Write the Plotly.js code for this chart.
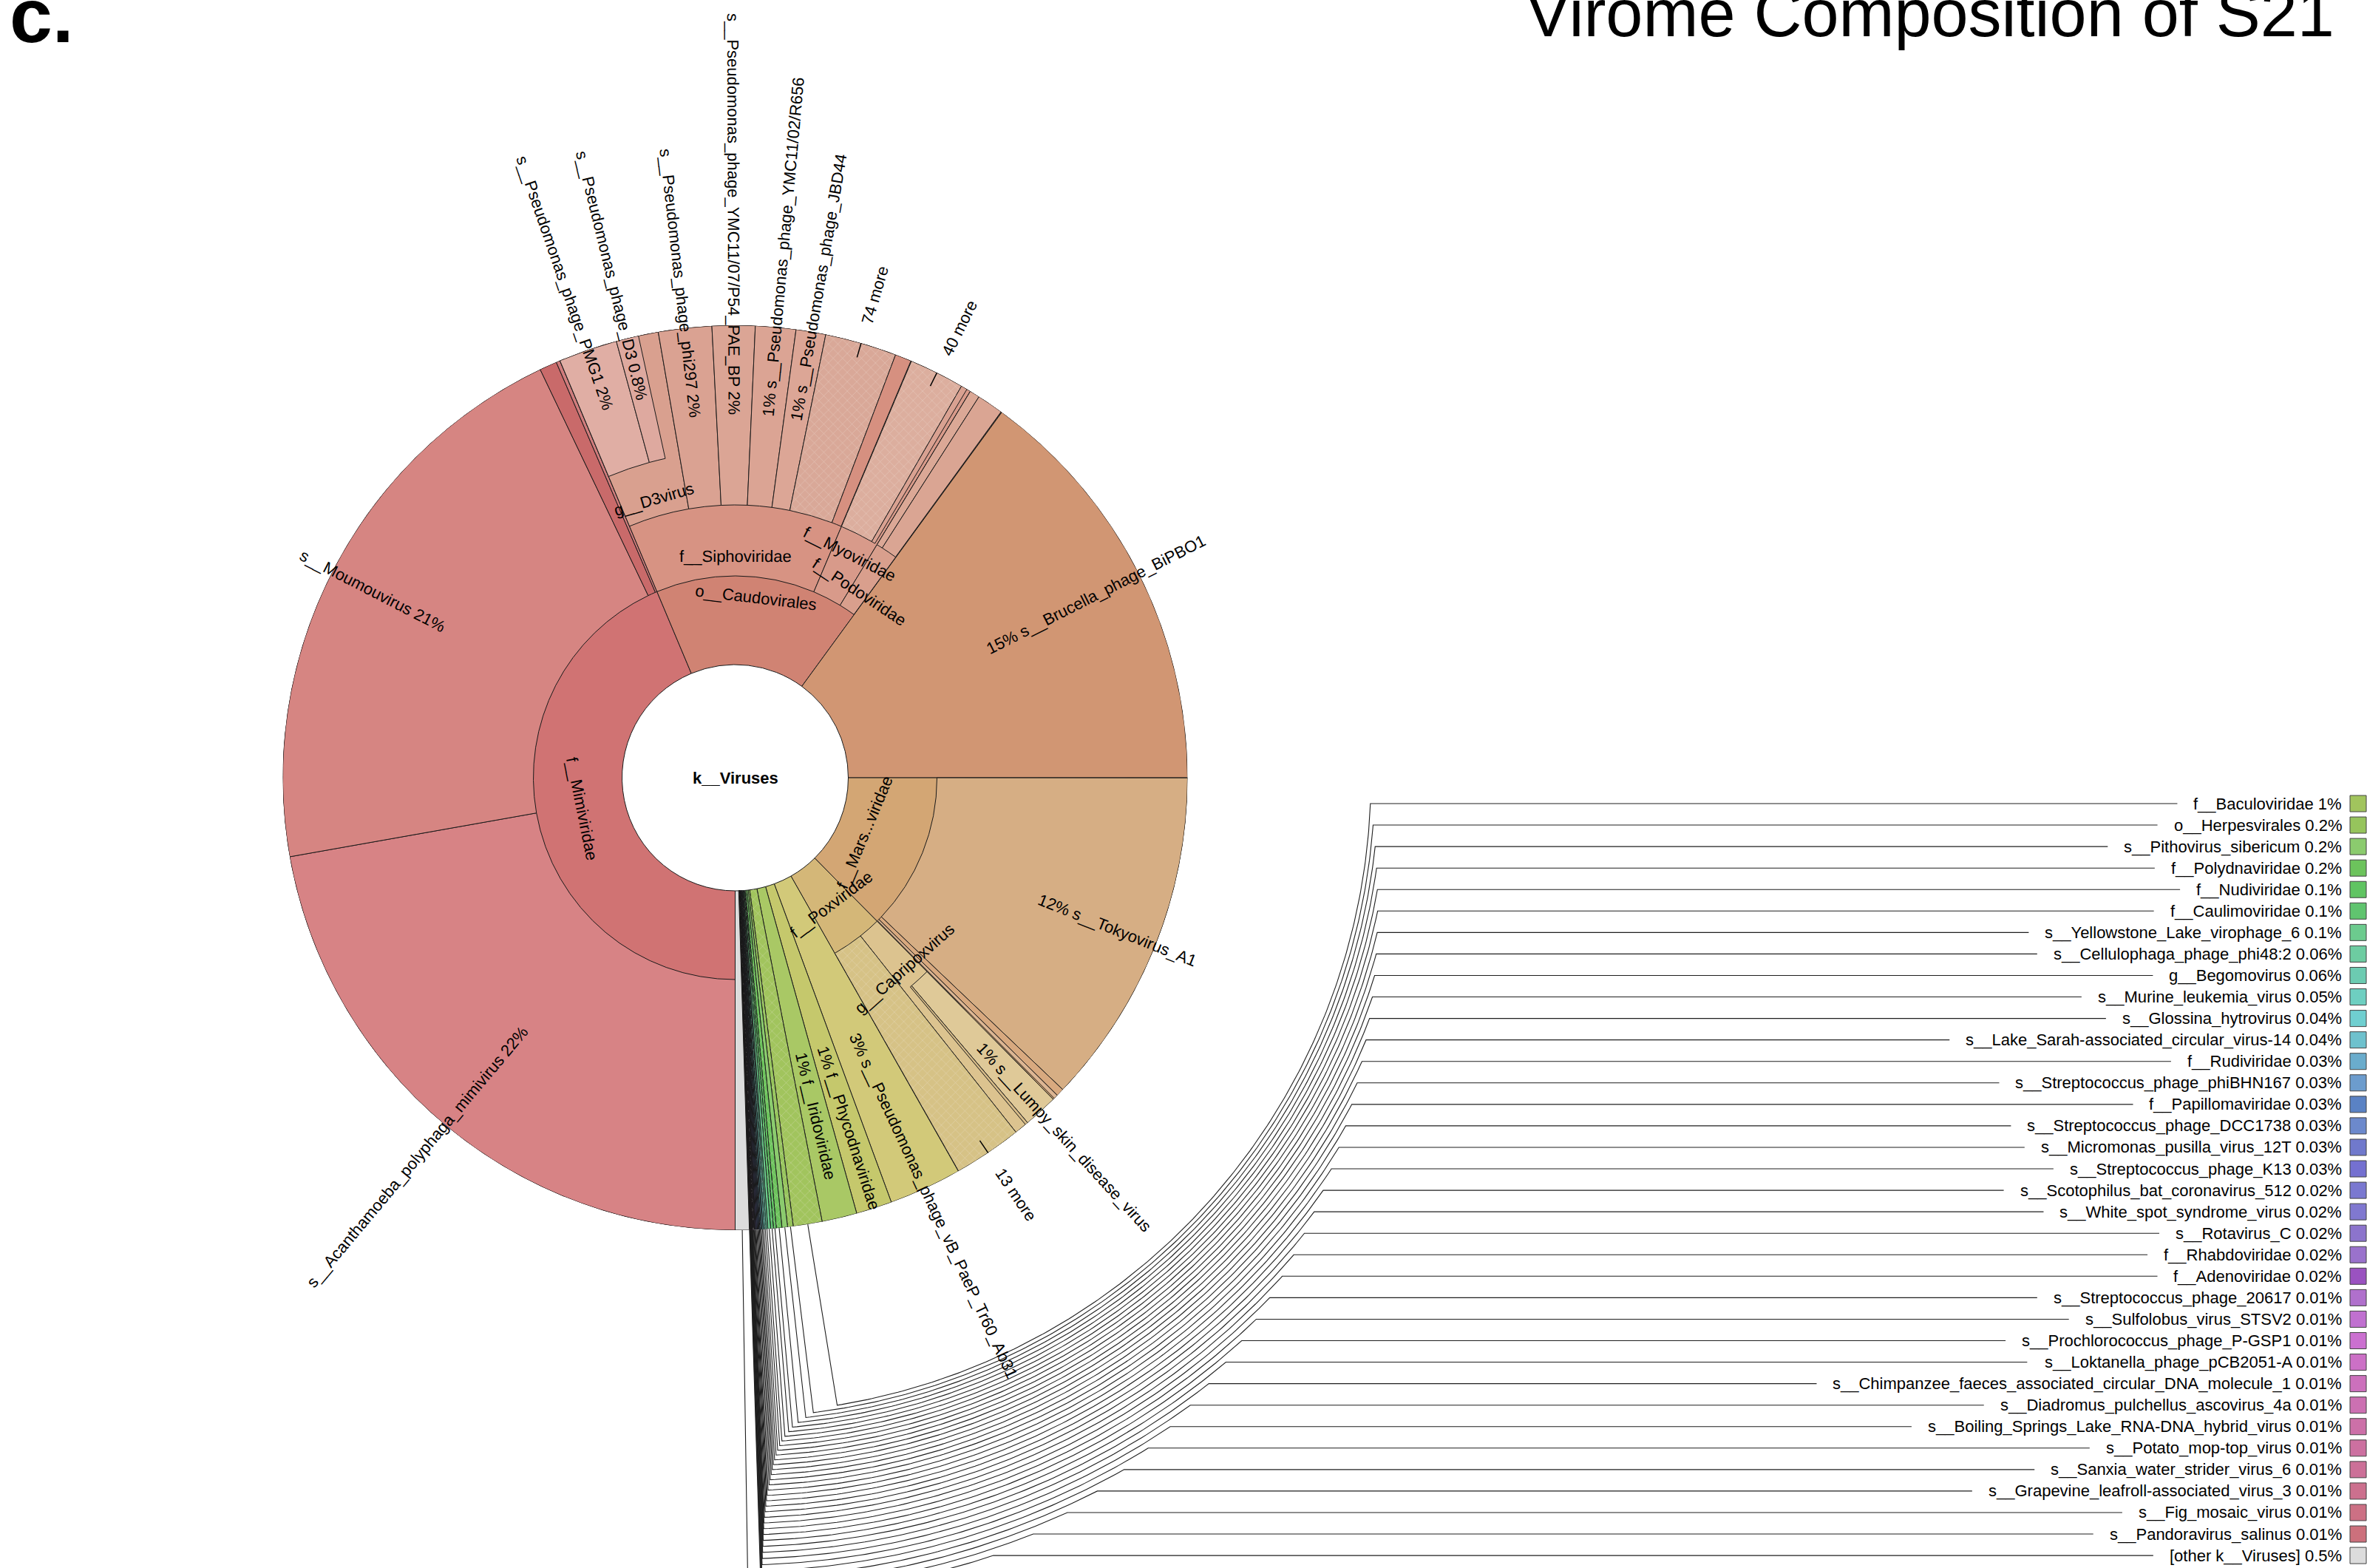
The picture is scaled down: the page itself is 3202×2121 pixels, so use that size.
<!DOCTYPE html>
<html><head><meta charset="utf-8">
<script src="https://cdn.plot.ly/plotly-3.0.1.min.js"></script>
<style>html,body{margin:0;padding:0;background:#fff}#chart{width:3202px;height:2121px}</style>
</head><body><div id="chart"></div>
<script>
// ================= DATA =================
const chartTitle = 'Virome Composition of S21';
const panelTag = 'c.';
const rootName = 'k__Viruses';

// nodes: parent listed before children; siblings in clockwise drawing order
const nodeNames = [
  // depth 1
  'f__Mimiviridae','o__Caudovirales','s__Brucella_phage_BiPBO1','f__Marseilleviridae','f__Poxviridae',
  's__Pseudomonas_phage_vB_PaeP_Tr60_Ab31','f__Phycodnaviridae','f__Iridoviridae',
  'f__Baculoviridae','o__Herpesvirales','s__Pithovirus_sibericum','f__Polydnaviridae','f__Nudiviridae',
  'f__Caulimoviridae','s__Yellowstone_Lake_virophage_6','s__Cellulophaga_phage_phi48:2','g__Begomovirus',
  's__Murine_leukemia_virus','s__Glossina_hytrovirus','s__Lake_Sarah-associated_circular_virus-14',
  'f__Rudiviridae','s__Streptococcus_phage_phiBHN167','f__Papillomaviridae','s__Streptococcus_phage_DCC1738',
  's__Micromonas_pusilla_virus_12T','s__Streptococcus_phage_K13','s__Scotophilus_bat_coronavirus_512',
  's__White_spot_syndrome_virus','s__Rotavirus_C','f__Rhabdoviridae','f__Adenoviridae',
  's__Streptococcus_phage_20617','s__Sulfolobus_virus_STSV2','s__Prochlorococcus_phage_P-GSP1',
  's__Loktanella_phage_pCB2051-A','s__Chimpanzee_faeces_associated_circular_DNA_molecule_1',
  's__Diadromus_pulchellus_ascovirus_4a','s__Boiling_Springs_Lake_RNA-DNA_hybrid_virus',
  's__Potato_mop-top_virus','s__Sanxia_water_strider_virus_6','s__Grapevine_leafroll-associated_virus_3',
  's__Fig_mosaic_virus','s__Pandoravirus_salinus','[other k__Viruses]',
  // depth 2
  's__Acanthamoeba_polyphaga_mimivirus','s__Moumouvirus','Mimiviridae (unlabelled 1)','Mimiviridae (unlabelled 2)',
  'f__Siphoviridae','f__Myoviridae','f__Podoviridae',
  's__Tokyovirus_A1','Marseilleviridae (unlabelled 1)','Marseilleviridae (unlabelled 2)',
  'g__Capripoxvirus','13 more',
  // depth 3
  'g__D3virus','s__Pseudomonas_phage_phi297','s__Pseudomonas_phage_YMC11/07/P54_PAE_BP',
  's__Pseudomonas_phage_YMC11/02/R656','s__Pseudomonas_phage_JBD44','74 more','Siphoviridae (unlabelled)',
  '40 more','Myoviridae (unlabelled)','Podoviridae (unlabelled 1)','Podoviridae (unlabelled 2)',
  's__Lumpy_skin_disease_virus','Capripoxvirus (unlabelled)',
  // depth 4
  's__Pseudomonas_phage_PMG1','s__Pseudomonas_phage_D3'
];
const R0 = 'k__Viruses';
const nodeParents = [
  R0,R0,R0,R0,R0,R0,R0,R0,
  R0,R0,R0,R0,R0,R0,R0,R0,R0,R0,R0,R0,R0,R0,R0,R0,R0,R0,R0,R0,R0,R0,R0,R0,R0,R0,R0,R0,R0,R0,R0,R0,R0,R0,R0,R0,
  'f__Mimiviridae','f__Mimiviridae','f__Mimiviridae','f__Mimiviridae',
  'o__Caudovirales','o__Caudovirales','o__Caudovirales',
  'f__Marseilleviridae','f__Marseilleviridae','f__Marseilleviridae',
  'f__Poxviridae','f__Poxviridae',
  'f__Siphoviridae','f__Siphoviridae','f__Siphoviridae','f__Siphoviridae','f__Siphoviridae','f__Siphoviridae','f__Siphoviridae',
  'f__Myoviridae','f__Myoviridae','f__Podoviridae','f__Podoviridae',
  'g__Capripoxvirus','g__Capripoxvirus',
  'g__D3virus','g__D3virus'
];
// percent of all viral reads
const nodeValues = [
  43.66,16.36,14.97,12.58,4.20,2.60,1.28,1.25,
  1.03,0.2,0.2,0.2,0.1,0.1,0.1,0.06,0.06,0.05,0.04,0.04,0.03,0.03,0.03,0.03,0.03,0.03,
  0.02,0.02,0.02,0.02,0.02,0.01,0.01,0.01,0.01,0.01,0.01,0.01,0.01,0.01,0.01,0.01,0.01,0.5,
  22.2,20.7,0.62,0.14,
  12.70,2.33,1.31,
  12.10,0.28,0.15,
  1.75,2.44,
  3.61,1.90,1.53,1.44,1.06,2.56,0.58,
  1.97,0.22,0.36,0.94,
  1.22,0.10,
  2.10,0.80
];

// ================= STYLE =================
const nodeColors = [
  '#d07373','#d08373','#d19673','#d3a674','#d4b778','#d2c979','#c5c86c','#a9c865',
  '#a1c45d','#96c45c','#8bcb6e','#6cc35c','#60c462','#60c46f','#6ccb8e','#6dcca1','#6ccbb1',
  '#6ecfc1','#6fcfd0','#6ec1cd','#6aaccc','#6c9ccd','#5a82c4','#6c89cc','#7079cc','#7470d0',
  '#7a78d0','#8078d0','#8c74cc','#9a72cc','#9a52c0','#b070cc','#c070d0','#cb70d0','#cc70c6',
  '#cc70bc','#cc70b2','#cc70a8','#cc70a0','#cc7098','#cc708e','#cc7084','#cc707c','#dcdcdc',
  '#d78385','#d68582','#c96a6a','#cf7c7c',
  '#d79383','#d89a8a','#d99f8d',
  '#d6ae84','#d8a97f','#dcb592',
  '#dcc38f','#d6c286',
  '#d9a08f','#daa292','#dba595','#dba494','#dca696','#d9a898','#d69080',
  '#dcae9e','#d9a191','#dba896','#daa593',
  '#dfc998','#d6bb88',
  '#e0aea4','#dea99f'
];
const hatchedNodes = ['74 more','40 more','13 more','f__Baculoviridae','o__Herpesvirales','f__Polydnaviridae',
  'f__Nudiviridae','f__Caulimoviridae','g__Begomovirus','f__Rudiviridae','f__Rhabdoviridae','f__Adenoviridae'];
const leafLabelled = ['s__Acanthamoeba_polyphaga_mimivirus','s__Moumouvirus','s__Brucella_phage_BiPBO1',
  's__Tokyovirus_A1','s__Lumpy_skin_disease_virus','s__Pseudomonas_phage_vB_PaeP_Tr60_Ab31',
  'f__Phycodnaviridae','f__Iridoviridae','s__Pseudomonas_phage_PMG1','s__Pseudomonas_phage_D3',
  's__Pseudomonas_phage_phi297','s__Pseudomonas_phage_YMC11/07/P54_PAE_BP',
  's__Pseudomonas_phage_YMC11/02/R656','s__Pseudomonas_phage_JBD44'];
const moreLabelled = ['74 more','40 more','13 more'];
const tangentLabelR = {'f__Mimiviridae':212,'o__Caudovirales':245,'f__Siphoviridae':300,'g__D3virus':392,
  'f__Myoviridae':340,'f__Podoviridae':302,'f__Marseilleviridae':190,'f__Poxviridae':215,'g__Capripoxvirus':345};
const shortNames = {'f__Marseilleviridae':'f__Mars...viridae'};
const keyFirst = 'f__Baculoviridae';

// ================= LAYOUT GEOMETRY =================
const W=3202,H=2121,CX=994.5,CY=1052,R_OUT=612;
const RING=[153,273,369,442];
const FONT='"Liberation Sans", Arial, Helvetica, sans-serif';
const FS=22;
const KEY_Y0=1087, KEY_DY=29.06, KEY_TEXT_RIGHT=3170, KEY_SWATCH_X=3190, KEY_GAP=24;

const cv=document.createElement('canvas').getContext('2d');
function tw(s,size,bold){cv.font=(bold?'bold ':'')+size+'px "Liberation Sans"';return cv.measureText(s).width;}
function fmtPct(v){return (v>=1?String(Math.round(v)):String(Number(v.toPrecision(1))))+'%';}
const rad=d=>d*Math.PI/180, dg=r=>r*180/Math.PI;
function toXY(r,th){const t=rad(th);return [CX-r*Math.sin(t), CY+r*Math.cos(t)];}

// angles
const idx={};nodeNames.forEach((n,i)=>idx[n]=i);
let total=0;nodeNames.forEach((n,i)=>{if(nodeParents[i]===rootName)total+=nodeValues[i];});
const start=[],span=[],depth=[],cursor={};cursor[rootName]=0;
nodeNames.forEach((n,i)=>{
  const p=nodeParents[i];
  depth[i]=p===rootName?1:depth[idx[p]]+1;
  if(cursor[p]===undefined)cursor[p]=start[idx[p]];
  start[i]=cursor[p];span[i]=nodeValues[i]/total*360;cursor[p]+=span[i];
});

const traces=[];
for(let d=1;d<=4;d++){
  const ids=nodeNames.map((n,i)=>i).filter(i=>depth[i]===d);
  traces.push({type:'barpolar',subplot:'polar',showlegend:false,hoverinfo:'skip',
    theta:ids.map(i=>start[i]+span[i]/2),width:ids.map(i=>span[i]),
    base:ids.map(()=>RING[d-1]),r:ids.map(()=>R_OUT-RING[d-1]),
    marker:{color:ids.map(i=>nodeColors[i]),line:{color:'#1a1a1a',width:1}}});
  // subtle hatch overlay for collapsed groups (transparent if patterns are unsupported)
  const hat=ids.filter(i=>hatchedNodes.includes(nodeNames[i]));
  if(hat.length)traces.push({type:'barpolar',subplot:'polar',showlegend:false,hoverinfo:'skip',
    theta:hat.map(i=>start[i]+span[i]/2),width:hat.map(i=>span[i]),
    base:hat.map(()=>RING[d-1]),r:hat.map(()=>R_OUT-RING[d-1]),
    marker:{color:'rgba(0,0,0,0)',line:{width:0},
      pattern:{shape:'x',fillmode:'overlay',fgcolor:'#f3e9e3',fgopacity:0.45,size:9,solidity:0.12}}});
}

const ann=[];
function addAnn(text,x,y,angle,opts){
  ann.push(Object.assign({text:text,x:x,y:y,xref:'x',yref:'y',showarrow:false,textangle:angle,
    xanchor:'center',yanchor:'middle',font:{family:FONT,size:FS,color:'#000'}},opts||{}));
}
function radialAngle(th){const t=rad(th);return th<180?dg(Math.atan2(-Math.cos(t),Math.sin(t))):dg(Math.atan2(Math.cos(t),-Math.sin(t)));}

// leaf labels
leafLabelled.forEach(n=>{
  const i=idx[n],th=start[i]+span[i]/2,base=RING[depth[i]-1];
  const pct=fmtPct(nodeValues[i]);
  const txt=th<180?n+' '+pct:pct+' '+n;
  const rc=(base+R_OUT)/2+tw(txt,FS)/2;
  const [x,y]=toXY(rc,th);
  addAnn(txt,x,y,radialAngle(th));
});
// "N more" labels with tick
const tickR=[],tickT=[];
moreLabelled.forEach(n=>{
  const i=idx[n],th=start[i]+span[i]/2;
  tickR.push(592,632,null);tickT.push(th,th,null);
  const rc=640+tw(n,FS)/2;const [x,y]=toXY(rc,th);
  addAnn(n,x,y,radialAngle(th));
});
traces.push({type:'scatterpolar',subplot:'polar',mode:'lines',r:tickR,theta:tickT,line:{color:'#000',width:1.5},hoverinfo:'skip',showlegend:false});
// tangential labels for inner nodes
Object.keys(tangentLabelR).forEach(n=>{
  const i=idx[n],th=start[i]+span[i]/2;
  let a=th-180;if(a>90)a-=180;if(a<-90)a+=180;
  const [x,y]=toXY(tangentLabelR[n],th);
  addAnn(shortNames[n]||n,x,y,a);
});
// center
addAnn('<b>'+rootName+'</b>',CX,CY,0);

// key list with leader lines
const k0=idx[keyFirst];
const keyIds=nodeNames.map((n,i)=>i).filter(i=>depth[i]===1&&i>=k0);
const lx=[],ly=[],swX=[],swY=[],swC=[];
keyIds.forEach((i,k)=>{
  const th=start[i]+span[i]/2;
  const yk=KEY_Y0+k*KEY_DY;
  const Rk=860+5.26*k+0.0526*k*k;
  const txt=nodeNames[i]+' '+fmtPct(nodeValues[i]);
  const L=tw(txt,FS);
  addAnn(txt,KEY_TEXT_RIGHT,yk,0,{xanchor:'right'});
  swX.push(KEY_SWATCH_X);swY.push(yk);swC.push(nodeColors[i]);
  let p=toXY(R_OUT,th);lx.push(p[0]);ly.push(p[1]);
  const phi=360-dg(Math.acos(Math.min(1,(yk-CY)/Rk)));
  for(let a=th;a>phi;a-=0.4){p=toXY(Rk,a);lx.push(p[0]);ly.push(p[1]);}
  p=toXY(Rk,phi);lx.push(p[0]);ly.push(yk);
  lx.push(KEY_TEXT_RIGHT-L-KEY_GAP);ly.push(yk);
  lx.push(null);ly.push(null);
});
traces.unshift({type:'scatter',x:lx,y:ly,mode:'lines',line:{color:'#1e1e1e',width:1.1},hoverinfo:'skip',showlegend:false,xaxis:'x',yaxis:'y'});
traces.push({type:'scatter',x:swX,y:swY,mode:'markers',marker:{symbol:'square',size:22,color:swC,line:{color:'#444',width:1}},hoverinfo:'skip',showlegend:false,xaxis:'x',yaxis:'y'});

// title and panel tag
ann.push({text:chartTitle,x:3160,y:18,xref:'x',yref:'y',xanchor:'right',yanchor:'middle',showarrow:false,font:{family:FONT,size:90,color:'#000'}});
ann.push({text:'<b>'+panelTag+'</b>',x:11,y:21,xref:'x',yref:'y',xanchor:'left',yanchor:'middle',showarrow:false,font:{family:FONT,size:104,color:'#000'}});

const layout={
  width:W,height:H,margin:{l:0,r:0,t:0,b:0},paper_bgcolor:'#fff',plot_bgcolor:'rgba(0,0,0,0)',showlegend:false,
  xaxis:{range:[0,W],visible:false,fixedrange:true,domain:[0,1]},
  yaxis:{range:[H,0],visible:false,fixedrange:true,domain:[0,1]},
  polar:{domain:{x:[(CX-R_OUT)/W,(CX+R_OUT)/W],y:[(H-CY-R_OUT)/H,(H-CY+R_OUT)/H]},
    bgcolor:'rgba(0,0,0,0)',barmode:'overlay',bargap:0,
    radialaxis:{visible:false,range:[0,R_OUT],showgrid:false,showline:false,ticks:''},
    angularaxis:{visible:false,rotation:-90,direction:'clockwise',showgrid:false,showline:false,ticks:''}},
  annotations:ann
};
Plotly.newPlot('chart',traces,layout,{displayModeBar:false,staticPlot:true});
</script></body></html>
